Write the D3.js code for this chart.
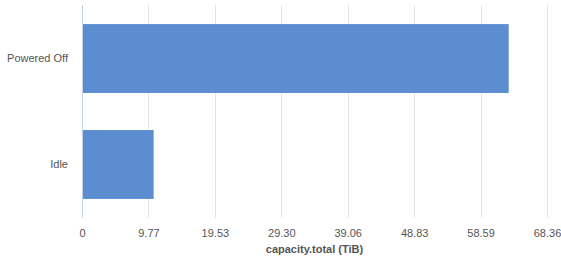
<!DOCTYPE html>
<html>
<head>
<meta charset="utf-8">
<script src="https://cdn.jsdelivr.net/npm/d3@7"></script>
<style>
  body { margin: 0; background: #fff; }
  text { font-family: "Liberation Sans", Arial, sans-serif; }
</style>
</head>
<body>
<div id="chart"></div>
<script>
// data
const categories = ["Powered Off", "Idle"];
const values = [62.73, 10.53];
const tickStep = 9.765625;
const tickValues = [0, 1, 2, 3, 4, 5, 6, 7].map(i => i * tickStep);
const axisTitle = "capacity.total (TiB)";

// setup canvas
const width = 561, height = 263;
const plotLeft = 82, plotRight = 547, plotTop = 5, plotBottom = 218;

const svg = d3.select("#chart").append("svg")
  .attr("width", width)
  .attr("height", height);

const x = d3.scaleLinear().domain([0, 7 * tickStep]).range([plotLeft, plotRight]);
const y = d3.scaleBand().domain(categories).range([plotTop, plotBottom])
  .paddingInner(0.35).paddingOuter(0.18);

// gridlines
svg.append("g")
  .selectAll("line")
  .data(tickValues.slice(1))
  .enter().append("line")
    .attr("x1", d => Math.round(x(d)) + 0.5)
    .attr("x2", d => Math.round(x(d)) + 0.5)
    .attr("y1", plotTop)
    .attr("y2", plotBottom)
    .attr("stroke", "#e4e4e4")
    .attr("stroke-width", 1);

// bars
svg.append("g")
  .selectAll("rect")
  .data(categories)
  .enter().append("rect")
    .attr("x", x(0))
    .attr("y", d => y(d))
    .attr("width", (d, i) => x(values[i]) - x(0))
    .attr("height", y.bandwidth())
    .attr("fill", "#5b8dd0");

// zero line
svg.append("line")
  .attr("x1", Math.round(x(0)) + 0.5)
  .attr("x2", Math.round(x(0)) + 0.5)
  .attr("y1", plotTop)
  .attr("y2", plotBottom)
  .attr("stroke", "#c3d4ea")
  .attr("stroke-width", 1);

// x axis labels
const xAxis = d3.axisBottom(x)
  .tickValues(tickValues)
  .tickSize(0)
  .tickPadding(0)
  .tickFormat(d => d === 0 ? "0" : d3.format(".2f")(d));

svg.append("g")
  .attr("transform", `translate(0, ${plotBottom + 11})`)
  .call(xAxis)
  .call(g => g.select(".domain").remove())
  .call(g => g.selectAll("text")
    .attr("fill", "#555")
    .attr("font-size", 11)
    .style("font-family", "Liberation Sans, Arial, sans-serif"));

// category labels
const yAxis = d3.axisLeft(y).tickSize(0).tickPadding(14);
svg.append("g")
  .attr("transform", `translate(${plotLeft}, 0)`)
  .call(yAxis)
  .call(g => g.select(".domain").remove())
  .call(g => g.selectAll("text")
    .attr("fill", "#555")
    .attr("font-size", 11)
    .style("font-family", "Liberation Sans, Arial, sans-serif"));

// axis title
svg.append("text")
  .attr("x", (plotLeft + plotRight) / 2)
  .attr("y", 253)
  .attr("text-anchor", "middle")
  .attr("font-size", 11)
  .attr("font-weight", "bold")
  .attr("fill", "#555")
  .text(axisTitle);
</script>
</body>
</html>
